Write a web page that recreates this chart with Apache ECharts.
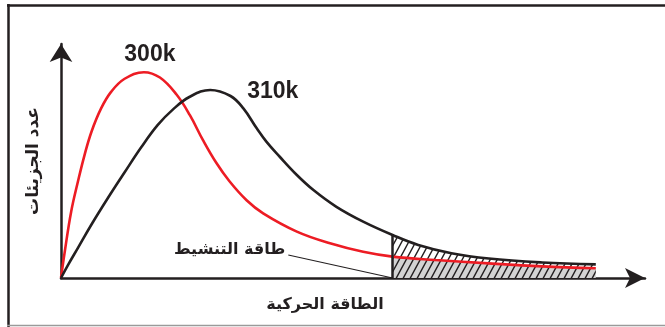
<!DOCTYPE html>
<html>
<head>
<meta charset="utf-8">
<script src="https://cdn.jsdelivr.net/npm/echarts@6/dist/echarts.min.js"></script>
<style>
html, body { margin: 0; padding: 0; background: #fff; }
#chart { width: 665px; height: 327px; }
</style>
</head>
<body>
<div id="chart"></div>
<script>
// kinetic energy (arbitrary units) and molecule counts
const energy300 = [0, 0.07, 0.19, 0.32, 0.44, 0.57, 0.75, 0.94, 1.19, 1.55, 1.85, 2.16, 2.41, 2.66, 2.9, 3.15, 3.47, 3.78, 4.41, 5.03, 5.65, 6.2, 7.0, 8.0, 9.0, 10.0];
const count300  = [0, 1.08, 2.73, 4.0, 5.06, 6.02, 6.98, 7.67, 8.2, 8.47, 8.25, 7.55, 6.7, 5.65, 4.75, 3.98, 3.2, 2.66, 1.91, 1.43, 1.08, 0.88, 0.74, 0.6, 0.48, 0.4];
const energy310 = [0, 0.13, 0.32, 0.57, 0.88, 1.19, 1.5, 1.81, 2.1, 2.4, 2.79, 3.17, 3.41, 3.66, 3.84, 4.09, 4.41, 4.72, 5.15, 5.65, 6.2, 6.68, 7.3, 8.0, 9.0, 10.0];
const count310  = [0, 0.53, 1.25, 2.2, 3.3, 4.35, 5.38, 6.3, 6.95, 7.45, 7.74, 7.49, 6.98, 6.16, 5.61, 4.99, 4.24, 3.62, 2.93, 2.32, 1.77, 1.36, 1.02, 0.8, 0.64, 0.56];
const seriesNames = ["300k", "310k"];
const activationEnergy = 6.2;
const activationLabelAt = [4.25, 0.95];

const xName = "الطاقة الحركية";
const yName = "عدد الجزيئات";
const activationName = "طاقة التنشيط";

const ink = "#231f20";
const red = "#ed1c24";

const pairs = (xs, ys) => xs.map((x, i) => [x, ys[i]]);
const tail = (xs, ys) => pairs(xs, ys).filter((p) => p[0] >= activationEnergy);
const peak = (xs, ys) => {
  const i = ys.indexOf(Math.max(...ys));
  return [xs[i], ys[i]];
};

// hatch pattern
const hatch = document.createElement("canvas");
hatch.width = 7;
hatch.height = 13;
const hc = hatch.getContext("2d");
hc.strokeStyle = ink;
hc.lineWidth = 1.4;
hc.beginPath();
hc.moveTo(0, 13); hc.lineTo(7, 0);
hc.moveTo(-1, 1.86); hc.lineTo(1, -1.86);
hc.moveTo(6, 14.86); hc.lineTo(8, 11.14);
hc.stroke();

const bigLabel = {
  color: ink,
  fontFamily: "Liberation Sans",
  fontWeight: "bold",
  fontSize: 23,
};
const arabic = {
  color: ink,
  fontFamily: "DejaVu Sans",
  fontWeight: "bold",
  fontSize: 16,
};

const myChart = echarts.init(document.getElementById("chart"));

const options = {
  animation: false,
  grid: { left: 61, right: 20, top: 44, bottom: 49 },
  xAxis: {
    type: "value",
    min: 0,
    max: 10.92,
    name: xName,
    nameLocation: "middle",
    nameGap: 19,
    nameTextStyle: Object.assign({ padding: [0, 56, 0, 0] }, arabic),
    axisLine: {
      lineStyle: { color: ink, width: 2.5 },
      symbol: ["none", "arrow"],
      symbolSize: [15, 20],
    },
    axisTick: { show: false },
    axisLabel: { show: false },
    splitLine: { show: false },
  },
  yAxis: {
    type: "value",
    min: 0,
    max: 9.63,
    name: yName,
    nameLocation: "middle",
    nameRotate: 90,
    nameGap: 19,
    nameTextStyle: Object.assign({}, arabic, { fontSize: 17 }),
    axisLine: {
      lineStyle: { color: ink, width: 2.5 },
      symbol: ["none", "arrow"],
      symbolSize: [17, 18],
    },
    axisTick: { show: false },
    axisLabel: { show: false },
    splitLine: { show: false },
  },
  // frame round the figure
  graphic: [
    { type: "line", shape: { x1: 8.5, y1: 4, x2: 8.5, y2: 327 }, style: { stroke: ink, lineWidth: 2.5 } },
    { type: "line", shape: { x1: 7, y1: 5.5, x2: 665, y2: 5.5 }, style: { stroke: ink, lineWidth: 2.5 } },
    { type: "line", shape: { x1: 7, y1: 325.5, x2: 665, y2: 325.5 }, style: { stroke: "#9a9a9a", lineWidth: 1.5 } },
  ],
  series: [
    {
      name: "fill300",
      type: "line",
      smooth: 0.4,
      showSymbol: false,
      silent: true,
      lineStyle: { width: 0 },
      areaStyle: { color: "#d3d3d3", opacity: 1 },
      data: tail(energy300, count300),
      z: 1,
    },
    {
      name: "hatch310",
      type: "line",
      smooth: 0.4,
      showSymbol: false,
      silent: true,
      lineStyle: { width: 0 },
      areaStyle: { color: { image: hatch, repeat: "repeat" }, opacity: 1 },
      data: tail(energy310, count310),
      z: 2,
    },
    {
      name: seriesNames[0],
      type: "line",
      smooth: 0.4,
      showSymbol: false,
      lineStyle: { color: red, width: 2.6 },
      data: pairs(energy300, count300),
      markPoint: {
        silent: true,
        symbolSize: 0,
        data: [
          {
            coord: peak(energy300, count300),
            label: Object.assign(
              { show: true, formatter: seriesNames[0], position: "top", distance: 4, offset: [6, -2] },
              bigLabel
            ),
          },
        ],
      },
      z: 4,
    },
    {
      name: seriesNames[1],
      type: "line",
      smooth: 0.4,
      showSymbol: false,
      lineStyle: { color: ink, width: 2.6 },
      data: pairs(energy310, count310),
      markLine: {
        silent: true,
        symbol: ["none", "none"],
        label: { show: false },
        data: [
          [
            { coord: [activationEnergy, 0], lineStyle: { color: ink, width: 2.5, type: "solid" } },
            { coord: [activationEnergy, count310[energy310.indexOf(activationEnergy)]] },
          ],
          [
            { coord: activationLabelAt, lineStyle: { color: ink, width: 1.1, type: "solid" } },
            { coord: [activationEnergy, 0] },
          ],
        ],
      },
      markPoint: {
        silent: true,
        symbolSize: 0,
        data: [
          {
            coord: peak(energy310, count310),
            label: Object.assign(
              { show: true, formatter: seriesNames[1], position: "right", distance: 5, offset: [32, 2] },
              bigLabel
            ),
          },
          {
            coord: activationLabelAt,
            label: Object.assign(
              { show: true, formatter: activationName, position: "left", distance: 3, offset: [0, -5] },
              arabic
            ),
          },
        ],
      },
      z: 5,
    },
  ],
};

myChart.setOption(options);
</script>
</body>
</html>
